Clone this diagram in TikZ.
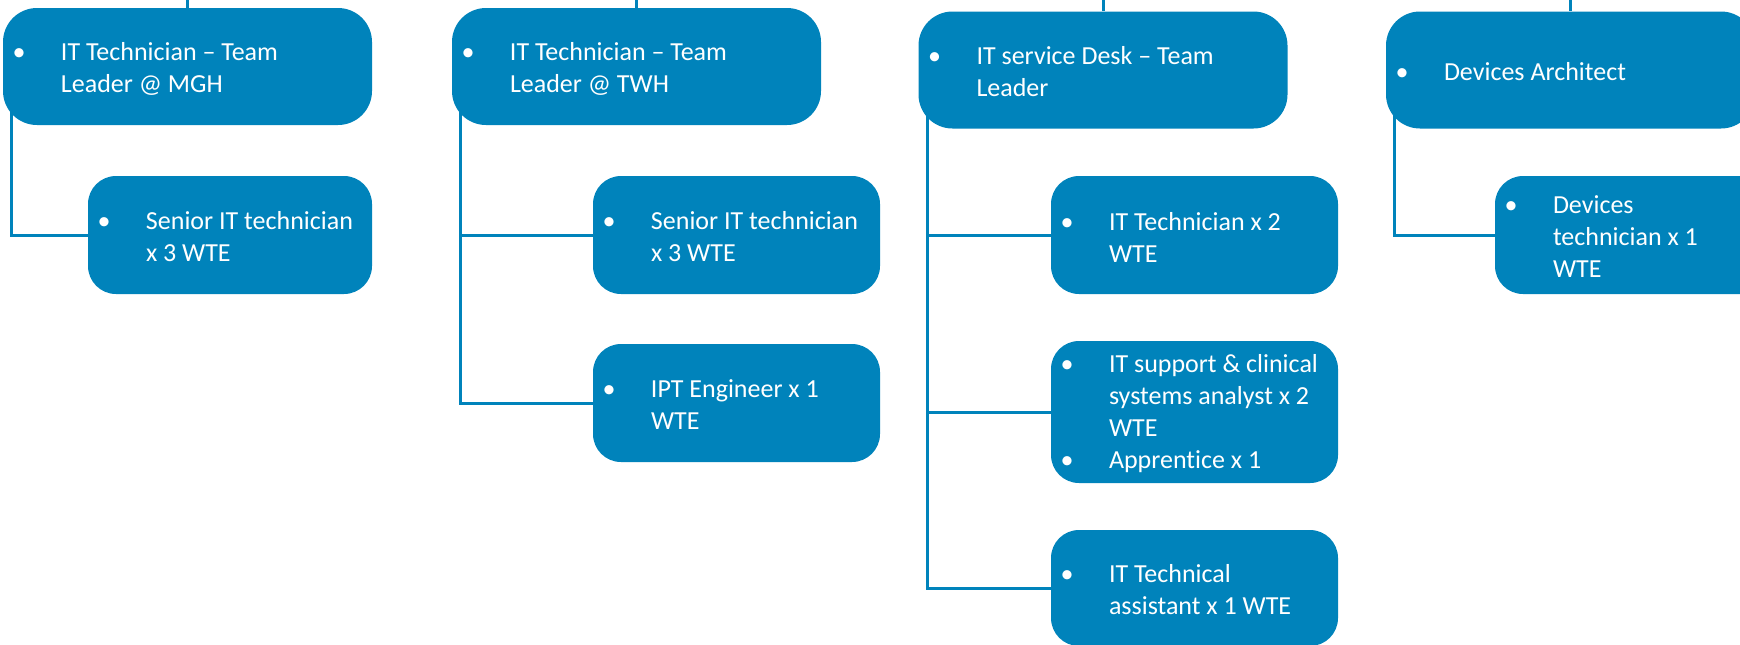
\documentclass[tikz,border=0pt]{standalone}
\usepackage{fontspec}
\setmainfont{Carlito}[Ligatures=NoCommon]
\usetikzlibrary{backgrounds}
\definecolor{orgblue}{RGB}{0,131,187}
\newcommand{\bul}{\llap{\makebox[0pt]{\textbullet}\hspace{21pt}}}
\newcommand{\rolebox}[4]{\node(#1)[#2] at (#3) {};
  \node(#1-t)[txt] at ([xshift=29pt,yshift=-1pt]#1.west) {#4}}

\begin{document}
\begin{tikzpicture}[
        x=1pt, y=1pt,
        head/.style={rectangle,rounded corners=17pt,fill=orgblue,inner sep=0pt,
                     minimum width=184.5pt,minimum height=58.5pt},
        sub/.style={rectangle,rounded corners=14pt,fill=orgblue,inner sep=0pt,
                    minimum width=143.5pt,minimum height=59pt},
        txt/.style={anchor=west,align=left,inner sep=0pt,text=white,
                    font=\fontsize{13pt}{16pt}\selectfont},
        conn/.style={draw=orgblue,line width=1.5pt}
      ]
      \useasboundingbox (0,0) rectangle (870,-322);

      % Team leaders, one per column
      \rolebox{mgh}{head}{93.75,-33.25}{\bul IT Technician – Team\\ Leader @ MGH};
      \rolebox{twh}{head}{318.25,-33.25}{\bul IT Technician – Team\\ Leader @ TWH};
      \rolebox{desk}{head}{551.5,-35}{\bul IT service Desk – Team\\ Leader};
      \rolebox{dev}{head}{785.25,-35}{\bul Devices Architect};

      % Staff under each leader
      \rolebox{mgh1}{sub,minimum width=142pt}{115,-117.5}{\bul Senior IT technician\\ x 3 WTE};
      \rolebox{twh1}{sub}{368.25,-117.5}{\bul Senior IT technician\\ x 3 WTE};
      \rolebox{twh2}{sub}{368.25,-201.5}{\bul IPT Engineer x 1\\ WTE};
      \rolebox{desk1}{sub}{597.25,-117.5}{\bul IT Technician x 2\\ WTE};
      \rolebox{desk2}{sub,minimum height=71pt}{597.25,-206}{\bul IT support \& clinical\\ systems analyst x 2\\ WTE\\ \bul Apprentice x 1};
      \rolebox{desk3}{sub,minimum height=58pt}{597.25,-294}{\bul IT Technical\\ assistant x 1 WTE};
      \rolebox{dev1}{sub}{819.25,-117.5}{\bul Devices\\ technician x 1\\ WTE};

      % Stubs up to the level above
      \coordinate (mgh-up) at (mgh.north |- 0,1);
      \coordinate (twh-up) at (twh.north |- 0,1);
      \coordinate (desk-up) at (desk.north |- 0,1);
      \coordinate (dev-up) at (dev.north |- 0,1);

      \begin{scope}[on background layer]
        \draw[conn] (mgh.north) -- (mgh-up);
        \draw[conn] (twh.north) -- (twh-up);
        \draw[conn] (desk.north) -- (desk-up);
        \draw[conn] (dev.north) -- (dev-up);

        % Elbow lines from each leader down to its staff
        \draw[conn] ([xshift=4.5pt]mgh.west) |- (mgh1.west);
        \draw[conn] ([xshift=4.5pt]twh.west) |- (twh1.west);
        \draw[conn] ([xshift=4.5pt]twh.west) |- (twh2.west);
        \draw[conn] ([xshift=4.5pt]desk.west) |- (desk1.west);
        \draw[conn] ([xshift=4.5pt]desk.west) |- (desk2.west);
        \draw[conn] ([xshift=4.5pt]desk.west) |- (desk3.west);
        \draw[conn] ([xshift=4.5pt]dev.west) |- (dev1.west);
      \end{scope}
    \end{tikzpicture}
\end{document}
